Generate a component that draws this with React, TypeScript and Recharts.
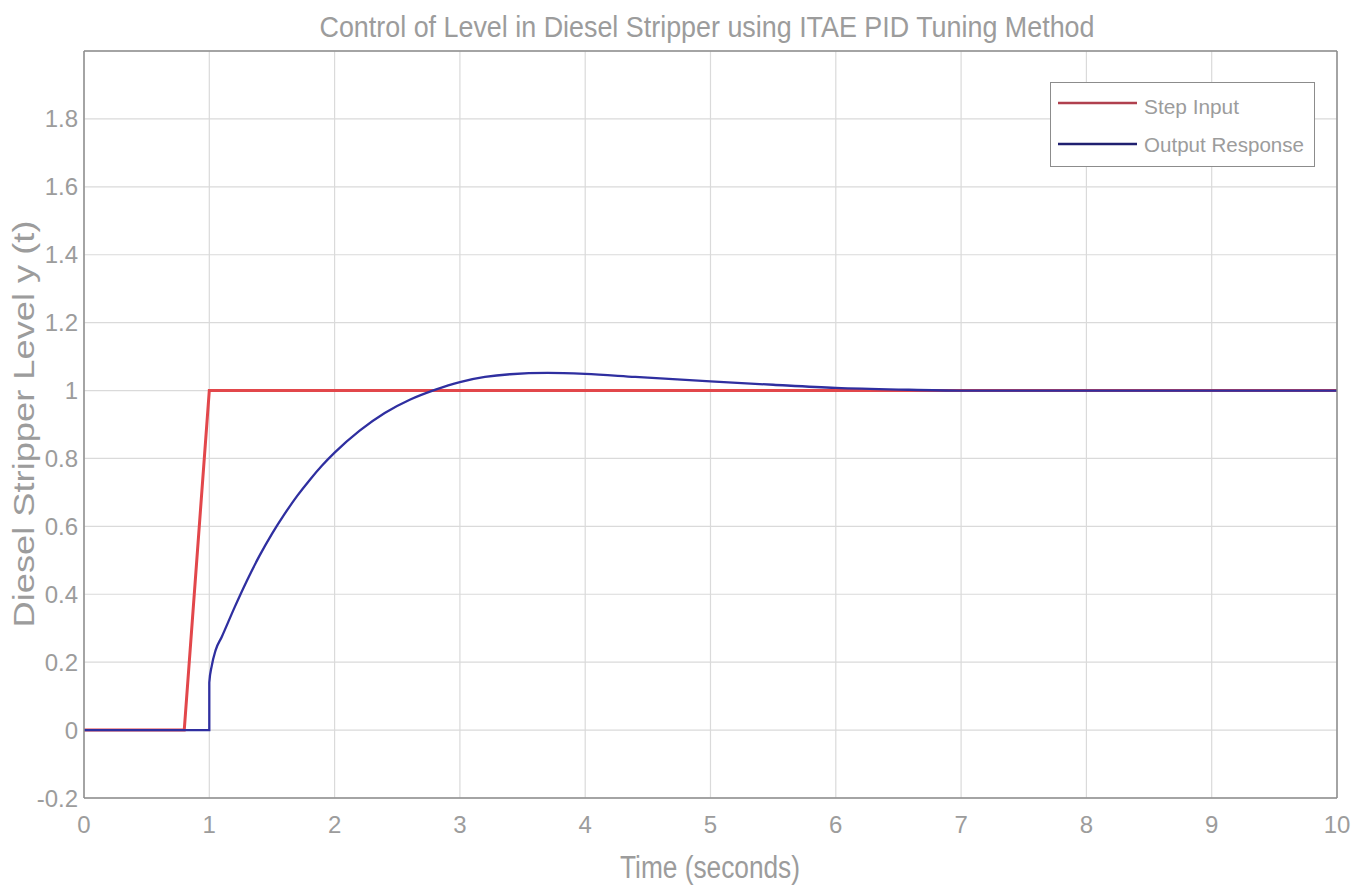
import React from "react";
import {
  LineChart,
  Line,
  XAxis,
  YAxis,
  CartesianGrid,
  Legend,
  Customized,
} from "recharts";

const stepT = [0, 0.8, 1.0, 10];
const stepY = [0, 0, 1, 1];

const respT = [0, 1.0, 1.0, 1.02, 1.05, 1.1, 1.2, 1.3, 1.4, 1.5, 1.6, 1.7, 1.8, 1.9, 2.0, 2.2, 2.4, 2.6, 2.8, 3.0, 3.2, 3.4, 3.7, 4.0, 4.4, 5.0, 5.5, 6.0, 6.5, 7.0, 8.0, 9.0, 10];
const respY = [0, 0, 0.14, 0.19, 0.235, 0.275, 0.36, 0.44, 0.513, 0.578, 0.636, 0.689, 0.736, 0.779, 0.817, 0.882, 0.934, 0.973, 1.002, 1.025, 1.04, 1.048, 1.052, 1.049, 1.04, 1.027, 1.017, 1.008, 1.003, 1.0, 1.0, 1.0, 1.0];

const xTicks = [0, 1, 2, 3, 4, 5, 6, 7, 8, 9, 10];
const yTicks = [-0.2, 0, 0.2, 0.4, 0.6, 0.8, 1, 1.2, 1.4, 1.6, 1.8, 2];
const yLabelTicks = [-0.2, 0, 0.2, 0.4, 0.6, 0.8, 1, 1.2, 1.4, 1.6, 1.8];

const seriesNames = ["Step Input", "Output Response"];
const titleText = "Control of Level in Diesel Stripper using ITAE PID Tuning Method";
const xLabelText = "Time (seconds)";
const yLabelText = "Diesel Stripper Level y (t)";

const stepData = stepT.map((t, i) => ({ t, v: stepY[i] }));
const respData = respT.map((t, i) => ({ t, v: respY[i] }));

const RED = "#e2474b";
const BLUE = "#2f2fa0";
const TEXT = "#9c9c9c";
const FRAME = "#8c8c8c";
const GRID = "#dadada";
const FONT = "'Liberation Sans', Arial, sans-serif";

const Texts = () => (
  <g fontFamily={FONT} fill={TEXT}>
    <text x={707} y={37} textAnchor="middle" fontSize={29} textLength={775} lengthAdjust="spacingAndGlyphs">
      {titleText}
    </text>
    <text x={710} y={878} textAnchor="middle" fontSize={31} textLength={180} lengthAdjust="spacingAndGlyphs">
      {xLabelText}
    </text>
    <text transform="translate(34,424) rotate(-90)" textAnchor="middle" fontSize={29} textLength={407} lengthAdjust="spacingAndGlyphs">
      {yLabelText}
    </text>
  </g>
);

const NoLabel = () => <g />;

const legendWidths: Record<string, number> = { "Step Input": 95, "Output Response": 160 };
const legendLineColors: Record<string, string> = { "Step Input": "#b0404e", "Output Response": "#202070" };

const LegendBox = (props: any) => {
  const payload = [...(props.payload || [])].sort(
    (a: any, b: any) => seriesNames.indexOf(a.value) - seriesNames.indexOf(b.value)
  );
  return (
    <div style={{ width: 265, height: 85, border: `1.5px solid ${FRAME}`, background: "#fff", boxSizing: "border-box" }}>
      <svg width={262} height={82} style={{ display: "block", overflow: "visible" }}>
        {payload.map((p: any, i: number) => (
          <g key={p.value}>
            <line x1={7} x2={86} y1={20 + i * 41} y2={20 + i * 41} stroke={legendLineColors[p.value] || p.color} strokeWidth={2.5} />
            <text x={93} y={31 + i * 38} fontSize={21} fill={TEXT} fontFamily={FONT} textLength={legendWidths[p.value]} lengthAdjust="spacingAndGlyphs">
              {p.value}
            </text>
          </g>
        ))}
      </svg>
    </div>
  );
};

export default function App() {
  return (
    <div style={{ position: "absolute", left: 0, top: 0, width: 1368, height: 890, background: "#fff" }}>
      <LineChart width={1368} height={890} margin={{ top: 51, left: 83, right: 31, bottom: 91 }}>
        <CartesianGrid xAxisId="x" yAxisId="y" stroke={GRID} strokeWidth={1.2} horizontalValues={yTicks} verticalValues={xTicks} />
        <XAxis
          xAxisId="x"
          dataKey="t"
          type="number"
          domain={[0, 10]}
          ticks={xTicks}
          allowDataOverflow
          height={1}
          tickSize={0}
          tickMargin={18}
          tickLine={false}
          axisLine={{ stroke: FRAME, strokeWidth: 1.5 }}
          tick={{ fill: TEXT, fontSize: 24, fontFamily: FONT }}
          interval={0}
        />
        <XAxis xAxisId="xb" type="number" domain={[0, 10]} ticks={xTicks} orientation="bottom" mirror height={1} tick={NoLabel} axisLine={false} tickSize={12} tickLine={{ stroke: "#777", strokeWidth: 1.3 }} interval={0} />
        <XAxis xAxisId="xt" type="number" domain={[0, 10]} ticks={xTicks} orientation="top" mirror height={1} tick={NoLabel} axisLine={{ stroke: FRAME, strokeWidth: 1.5 }} tickSize={12} tickLine={{ stroke: "#777", strokeWidth: 1.3 }} interval={0} />
        <YAxis
          yAxisId="y"
          type="number"
          domain={[-0.2, 2]}
          ticks={yLabelTicks}
          allowDataOverflow
          width={1}
          tickSize={0}
          tickMargin={6}
          tickLine={false}
          axisLine={{ stroke: FRAME, strokeWidth: 1.5 }}
          tick={{ fill: TEXT, fontSize: 24, fontFamily: FONT }}
          interval={0}
        />
        <YAxis yAxisId="yl" type="number" domain={[-0.2, 2]} ticks={yLabelTicks} orientation="left" mirror width={1} tick={NoLabel} axisLine={false} tickSize={11} tickLine={{ stroke: "#777", strokeWidth: 1.3 }} interval={0} />
        <YAxis yAxisId="yr" type="number" domain={[-0.2, 2]} ticks={yLabelTicks} orientation="right" mirror width={1} tick={NoLabel} axisLine={{ stroke: FRAME, strokeWidth: 1.5 }} tickSize={11} tickLine={{ stroke: "#777", strokeWidth: 1.3 }} interval={0} />
        <Line
          xAxisId="x"
          yAxisId="y"
          data={stepData}
          dataKey="v"
          name={seriesNames[0]}
          type="linear"
          stroke={RED}
          strokeWidth={3}
          dot={false}
          isAnimationActive={false}
        />
        <Line
          xAxisId="x"
          yAxisId="y"
          data={respData}
          dataKey="v"
          name={seriesNames[1]}
          type="monotone"
          stroke={BLUE}
          strokeWidth={2.3}
          dot={false}
          isAnimationActive={false}
        />
        <Legend
          layout="vertical"
          verticalAlign="middle"
          align="center"
          content={<LegendBox />}
          wrapperStyle={{ top: 82, left: 1050, width: 265, height: 85 }}
        />
        <Customized component={Texts} />
      </LineChart>
    </div>
  );
}
